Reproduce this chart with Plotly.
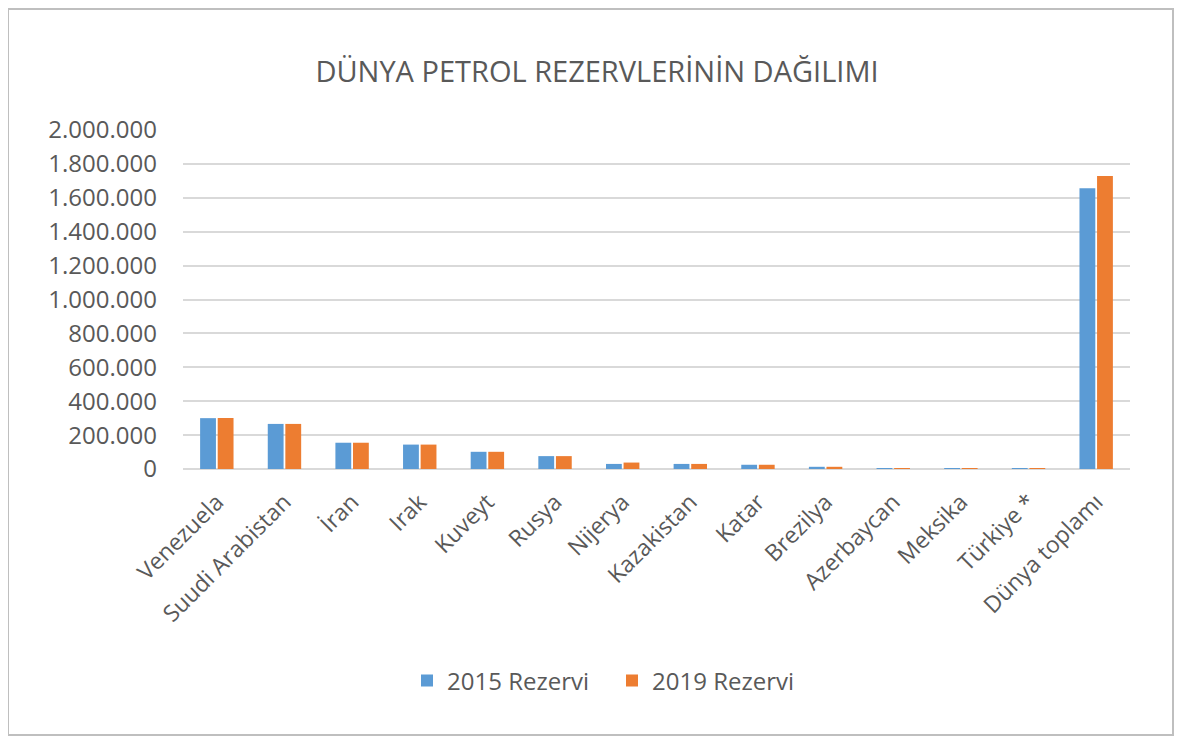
import plotly.graph_objects as go

categories = ["Venezuela", "Suudi Arabistan", "İran", "Irak", "Kuveyt", "Rusya",
              "Nijerya", "Kazakistan", "Katar", "Brezilya", "Azerbaycan", "Meksika",
              "Türkiye *", "Dünya toplamı"]
rezerv_2015 = [300000, 266000, 155000, 144000, 101500, 76000,
               30000, 30000, 25000, 13000, 1500, 1200, 300, 1656000]
rezerv_2019 = [301000, 266000, 155000, 144000, 101500, 76000,
               38000, 30000, 25000, 13000, 1500, 1000, 350, 1728000]
tick_vals = [0, 200000, 400000, 600000, 800000, 1000000, 1200000, 1400000,
             1600000, 1800000, 2000000]
tick_text = ["0", "200.000", "400.000", "600.000", "800.000", "1.000.000", "1.200.000",
             "1.400.000", "1.600.000", "1.800.000", "2.000.000"]

FONT = "Open Sans"
GRAY = "#595959"

fig = go.Figure()
fig.add_trace(go.Bar(name="2015 Rezervi", x=categories, y=rezerv_2015,
                     marker=dict(color="#5B9BD5", line=dict(width=0))))
fig.add_trace(go.Bar(name="2019 Rezervi", x=categories, y=rezerv_2019,
                     marker=dict(color="#ED7D31", line=dict(width=0))))

OFF = 8  # page body margin
W, H = 1182 - 2 * OFF, 744 - 2 * OFF
L = 183 - OFF
T = 130 - OFF
B = H - (469 - OFF)
R = W - (1130 - OFF)
pw, ph = W - L - R, H - T - B


def px_x(x):
    return (x - OFF - L) / pw


def px_y(y):
    return (H - B - (y - OFF)) / ph


fig.update_layout(
    width=W, height=H,
    margin=dict(l=L, r=R, t=T, b=B, autoexpand=False),
    paper_bgcolor="white", plot_bgcolor="white",
    barmode="group", bargap=0.48, bargroupgap=0.1,
    font=dict(family=FONT, color=GRAY),
    title=dict(text="DÜNYA PETROL REZERVLERİNİN DAĞILIMI",
               x=(597 - OFF) / W, xanchor="center", xref="container",
               y=1 - (72 - OFF) / H, yanchor="middle",
               font=dict(family=FONT, size=29, color=GRAY)),
    xaxis=dict(tickangle=-45, tickfont=dict(family=FONT, size=23, color=GRAY),
               showgrid=False, showline=False, ticks="", ticklen=0,
               ticklabelstandoff=14),
    yaxis=dict(range=[0, 2000000], tickvals=tick_vals, ticktext=tick_text,
               tickfont=dict(family=FONT, size=24, color=GRAY),
               showgrid=True, gridcolor="#D9D9D9", gridwidth=1.5,
               zeroline=True, zerolinecolor="#D9D9D9", zerolinewidth=1.5,
               showline=False, ticks="", ticklabelstandoff=25),
    legend=dict(orientation="h", x=(407 - OFF) / W, xanchor="left", xref="container",
                y=px_y(681), yanchor="middle",
                font=dict(family=FONT, size=24, color=GRAY),
                itemwidth=30, entrywidth=160, entrywidthmode="pixels",
                traceorder="normal"),
    shapes=[dict(type="rect", xref="paper", yref="paper",
                 x0=px_x(8), x1=px_x(1173), y0=px_y(735), y1=px_y(9),
                 line=dict(color="#BFBFBF", width=2), layer="below")],
)

fig.write_html("out.html")
